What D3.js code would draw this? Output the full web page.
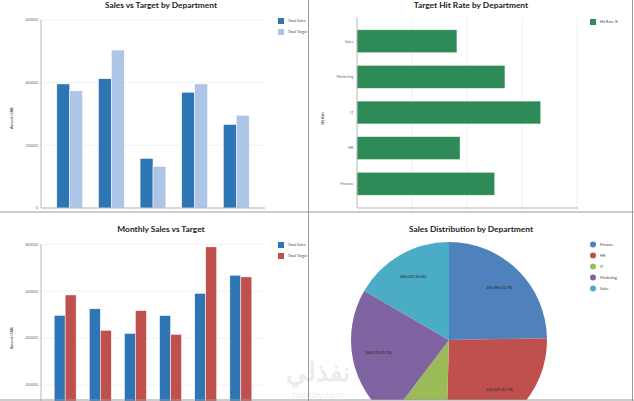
<!DOCTYPE html>
<html>
<head>
<meta charset="utf-8">
<script src="https://cdn.jsdelivr.net/npm/d3@7"></script>
<style>
  body { margin: 0; background: #fff; }
  text { font-family: Lato, "Open Sans", sans-serif; }
</style>
</head>
<body>
<script>
// department figures (sales shared by first bar chart and pie)
var departments = ["Finance", "HR", "IT", "Marketing", "Sales"];
var deptSales = [395898, 412449, 158200, 369478, 266420];
var deptTarget = [374000, 504000, 133000, 396000, 296000];

var hitDepts = ["Sales", "Marketing", "IT", "HR", "Finance"];
var hitRates = [54.5, 80.7, 100.2, 56.2, 75.1];

var months = ["Jan", "Feb", "Mar", "Apr", "May", "Jun"];
var monthSales = [497000, 525000, 420000, 496000, 591000, 668000];
var monthTarget = [584000, 433000, 517000, 416000, 789000, 661000];

var amountTicks = [0, 200000, 400000, 600000];
var monthTicks = [200000, 400000, 600000, 800000];

var width = 634;
var height = 401;

var svg = d3.select("body").append("svg").attr("width", width).attr("height", height);

var defs = svg.append("defs");
function panel(id, x, y, w, h) {
  defs.append("clipPath").attr("id", id)
    .append("rect").attr("x", x).attr("y", y).attr("width", w).attr("height", h);
  return svg.append("g").attr("clip-path", "url(#" + id + ")");
}

var axisColor = "#a6a6a6";
var gridColor = "#e8e8e8";
var tickColor = "#6b6b6b";

function title(g, text, x, y) {
  g.append("text").attr("x", x).attr("y", y)
    .attr("text-anchor", "middle")
    .attr("font-size", 8.4).attr("font-weight", "bold").attr("fill", "#222")
    .text(text);
}

function yTitle(g, text, x, y) {
  g.append("text").attr("transform", "translate(" + x + "," + y + ") rotate(-90)")
    .attr("text-anchor", "middle").attr("font-size", 3.6).attr("fill", "#333")
    .text(text);
}

function squareLegend(g, names, colors, x, y) {
  names.forEach(function(n, i) {
    g.append("rect").attr("x", x).attr("y", y + i * 11).attr("width", 6).attr("height", 6)
      .attr("fill", colors[i]);
    g.append("text").attr("x", x + 10).attr("y", y + i * 11 + 4.3)
      .attr("font-size", 3.8).attr("fill", "#444").text(n);
  });
}

function groupedBars(g, cats, a, b, colors, x0, y, ticks, yBottom) {
  var x1 = d3.scaleBand().domain([0, 1]).range([0, x0.bandwidth()]);
  var r = x0.range();

  g.append("g").selectAll("line").data(ticks).enter().append("line")
    .attr("x1", r[0]).attr("x2", r[1])
    .attr("y1", function(d) { return y(d); }).attr("y2", function(d) { return y(d); })
    .attr("stroke", gridColor).attr("stroke-width", 0.6);

  g.append("g").selectAll("text").data(ticks).enter().append("text")
    .attr("x", r[0] - 3).attr("y", function(d) { return y(d) + 1.3; })
    .attr("text-anchor", "end").attr("font-size", 3.6).attr("fill", tickColor)
    .text(function(d) { return d; });

  var rows = cats.map(function(c, i) { return { c: c, v: [a[i], b[i]] }; });
  g.append("g").selectAll("g").data(rows).enter().append("g")
    .attr("transform", function(d) { return "translate(" + x0(d.c) + ",0)"; })
    .selectAll("rect").data(function(d) { return d.v; }).enter().append("rect")
    .attr("x", function(d, i) { return x1(i); })
    .attr("y", function(d) { return y(d); })
    .attr("width", x1.bandwidth())
    .attr("height", function(d) { return y(0) - y(d); })
    .attr("fill", function(d, i) { return colors[i]; })
    .attr("stroke", "#fff").attr("stroke-width", 0.5);

  g.append("line").attr("x1", r[0]).attr("x2", r[0])
    .attr("y1", y(ticks[ticks.length - 1])).attr("y2", yBottom)
    .attr("stroke", axisColor).attr("stroke-width", 0.8);
}

// ---- top left: sales vs target by department
var tl = panel("c1", 0, 0, 308, 211);
title(tl, "Sales vs Target by Department", 161, 8);
var x0a = d3.scaleBand().domain(departments).range([41, 265]).padding(0.38);
var ya = d3.scaleLinear().domain([0, 600000]).range([208, 20]);
groupedBars(tl, departments, deptSales, deptTarget, ["#2e75b6", "#adc5e6"], x0a, ya, amountTicks, 208);
tl.append("line").attr("x1", 41).attr("x2", 265).attr("y1", 208).attr("y2", 208)
  .attr("stroke", axisColor).attr("stroke-width", 0.8);
yTitle(tl, "Amount (SAR)", 13, 118);
squareLegend(tl, ["Total Sales", "Total Target"], ["#2e75b6", "#adc5e6"], 278, 18);

// ---- top right: hit rate
var tr = panel("c2", 309, 0, 323, 211);
title(tr, "Target Hit Rate by Department", 471, 8);
var xh = d3.scaleLinear().domain([0, 120]).range([357, 577]);
var yh = d3.scaleBand().domain(hitDepts).range([17, 208]).padding(0.36);
tr.append("g").selectAll("line").data([30, 60, 90, 120]).enter().append("line")
  .attr("x1", function(d) { return xh(d); }).attr("x2", function(d) { return xh(d); })
  .attr("y1", 17).attr("y2", 212)
  .attr("stroke", gridColor).attr("stroke-width", 0.6);
tr.append("g").selectAll("rect").data(hitRates).enter().append("rect")
  .attr("x", xh(0))
  .attr("y", function(d, i) { return yh(hitDepts[i]); })
  .attr("width", function(d) { return xh(d) - xh(0); })
  .attr("height", yh.bandwidth())
  .attr("fill", "#2e8b57").attr("stroke", "#dff0e6").attr("stroke-width", 0.5);
tr.append("g").selectAll("text").data(hitDepts).enter().append("text")
  .attr("x", 353.5).attr("y", function(d) { return yh(d) + yh.bandwidth() / 2 + 1.3; })
  .attr("text-anchor", "end").attr("font-size", 3.8).attr("fill", tickColor)
  .text(function(d) { return d; });
tr.append("line").attr("x1", 357).attr("x2", 357).attr("y1", 17).attr("y2", 208)
  .attr("stroke", axisColor).attr("stroke-width", 0.8);
tr.append("line").attr("x1", 357).attr("x2", 578).attr("y1", 208).attr("y2", 208)
  .attr("stroke", axisColor).attr("stroke-width", 0.8);
yTitle(tr, "Hit Rate", 324, 118);
squareLegend(tr, ["Hit Rate %"], ["#2e8b57"], 590, 19);

// ---- bottom left: monthly
var bl = panel("c3", 0, 213, 308, 188);
title(bl, "Monthly Sales vs Target", 161, 232);
var x0m = d3.scaleBand().domain(months).range([41, 265]).padding(0.375);
var ym = d3.scaleLinear().domain([0, 800000]).range([431.9, 244.3]);
groupedBars(bl, months, monthSales, monthTarget, ["#2e75b6", "#c0504d"], x0m, ym, monthTicks, 401);
yTitle(bl, "Amount (SAR)", 13, 338);
squareLegend(bl, ["Total Sales", "Total Target"], ["#2e75b6", "#c0504d"], 278, 242);

// ---- bottom right: pie
var br = panel("c4", 309, 213, 323, 187);
title(br, "Sales Distribution by Department", 471, 232);
var pieColors = ["#4f81bd", "#c0504d", "#9bbb59", "#8064a2", "#4bacc6"];
var total = d3.sum(deptSales);
var pie = d3.pie().sort(null);
var arc = d3.arc().innerRadius(0).outerRadius(98);
var labelArc = d3.arc().innerRadius(72).outerRadius(72);
var pg = br.append("g").attr("transform", "translate(449,340)");
var slices = pie(deptSales);
pg.selectAll("path").data(slices).enter().append("path")
  .attr("d", arc)
  .attr("fill", function(d, i) { return pieColors[i]; });
pg.selectAll("text").data(slices).enter().append("text")
  .attr("transform", function(d) { return "translate(" + labelArc.centroid(d) + ")"; })
  .attr("text-anchor", "middle").attr("font-size", 3.6).attr("fill", "#222")
  .text(function(d) {
    return d3.format(",")(d.data) + " (" + d3.format(".1f")(d.data / total * 100) + "%)";
  });
departments.forEach(function(n, i) {
  br.append("circle").attr("cx", 593).attr("cy", 244.5 + i * 11).attr("r", 3)
    .attr("fill", pieColors[i]);
  br.append("text").attr("x", 600).attr("y", 245.8 + i * 11)
    .attr("font-size", 3.8).attr("fill", "#444").text(n);
});

// ---- panel borders
svg.append("line").attr("x1", 308.5).attr("x2", 308.5).attr("y1", 0).attr("y2", height)
  .attr("stroke", "#9a9a9a").attr("stroke-width", 1);
svg.append("line").attr("x1", 0).attr("x2", width).attr("y1", 212).attr("y2", 212)
  .attr("stroke", "#9a9a9a").attr("stroke-width", 1);
svg.append("line").attr("x1", 632.5).attr("x2", 632.5).attr("y1", 0).attr("y2", height)
  .attr("stroke", "#9a9a9a").attr("stroke-width", 1);
svg.append("line").attr("x1", 0).attr("x2", width).attr("y1", 400).attr("y2", 400)
  .attr("stroke", "#9a9a9a").attr("stroke-width", 1);

// watermark
svg.append("text").attr("x", 318).attr("y", 381).attr("text-anchor", "middle")
  .attr("font-family", "'Noto Sans', sans-serif").attr("font-size", 26).attr("font-weight", "bold")
  .attr("fill", "#000").attr("opacity", 0.07).text("نفذلي");
svg.append("text").attr("x", 318).attr("y", 398).attr("text-anchor", "middle")
  .attr("font-size", 10).attr("fill", "#000").attr("opacity", 0.07).text("nafezly.com");
</script>
</body>
</html>
